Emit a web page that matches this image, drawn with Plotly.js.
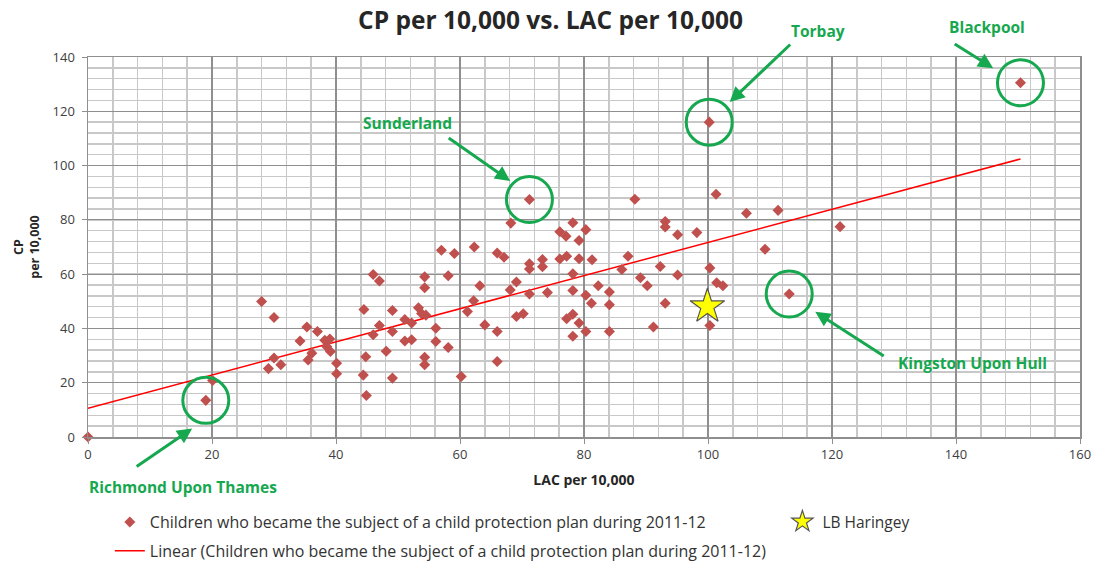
<!DOCTYPE html>
<html><head><meta charset="utf-8">
<script src="https://cdn.plot.ly/plotly-3.0.1.min.js"></script>
<style>html,body{margin:0;padding:0;background:#fff;} #chart{width:1101px;height:565px;}</style>
</head><body><div id="chart"></div>
<script>
// ---- data ----
const lacValues = [0, 19.0, 20.1, 28.0, 30.0, 29.1, 30.0, 31.1, 34.2, 35.3, 37.0, 38.2, 39.0, 38.5, 39.1, 36.1, 35.5, 40.1, 40.1,
  44.5, 44.8, 44.4, 44.9, 46.0, 47.0, 47.0, 46.0, 48.1, 49.1, 49.1, 49.1, 51.1, 52.2, 51.1, 52.2, 53.3, 53.8, 54.5, 54.3, 54.3,
  56.1, 56.1, 54.3, 54.3, 58.1, 57.0, 59.1, 58.1, 60.2, 62.3, 63.2, 62.2, 61.2, 64.0, 66.0, 66.0, 66.0, 67.1, 68.2, 71.2,
  69.1, 68.1, 69.1, 70.2, 71.2, 71.2, 73.3, 73.3, 71.2, 74.1, 76.1, 77.1, 78.2, 79.2, 80.3, 76.1, 77.2, 79.2, 81.3, 78.2,
  78.2, 80.3, 82.3, 84.1, 81.2, 84.1, 77.2, 78.2, 79.2, 80.3, 78.2, 84.1, 88.2, 87.1, 86.1, 89.1, 90.2, 91.2, 92.3, 93.1,
  93.1, 93.1, 95.1, 95.1, 98.2, 100.2, 100.3, 100.3, 101.3, 101.4, 102.4, 106.2, 109.2, 111.3, 113.1, 121.3, 150.4];
const cpValues = [0, 13.5, 20.8, 49.9, 44.0, 25.2, 29.1, 26.6, 35.4, 40.5, 38.9, 35.6, 36.1, 33.3, 31.5, 30.9, 28.4, 27.2, 23.3,
  47.0, 29.6, 22.8, 15.3, 59.9, 57.5, 41.1, 37.7, 31.6, 46.6, 38.9, 21.7, 43.3, 42.0, 35.4, 35.8, 47.6, 45.5, 44.9, 59.0, 55.0,
  40.1, 35.2, 29.4, 26.6, 33.0, 68.8, 67.6, 59.4, 22.3, 70.0, 55.7, 50.2, 46.2, 41.3, 38.9, 27.8, 67.8, 66.2, 78.8, 87.5,
  57.1, 54.2, 44.4, 45.4, 63.8, 61.9, 65.4, 62.7, 52.7, 53.2, 75.6, 74.0, 78.9, 72.4, 76.4, 65.6, 66.6, 65.7, 65.3, 60.1,
  54.0, 52.2, 55.7, 53.4, 49.3, 48.7, 43.6, 45.2, 42.0, 38.9, 37.1, 38.9, 87.6, 66.6, 61.7, 58.7, 55.7, 40.5, 62.8, 79.4,
  77.4, 49.3, 74.5, 59.7, 75.3, 116.0, 62.3, 41.1, 89.4, 56.8, 55.7, 82.4, 69.2, 83.5, 52.7, 77.5, 130.5];
const haringeyLac = [99.9];
const haringeyCp = [48.1];
const seriesName = 'Children who became the subject of a child protection plan during 2011-12';
const trendName = 'Linear (' + seriesName + ')';
const haringeyName = 'LB Haringey';
const xTickValues = [0, 20, 40, 60, 80, 100, 120, 140, 160];
const yTickValues = [0, 20, 40, 60, 80, 100, 120, 140];
const calloutNames = ['Richmond Upon Thames', 'Sunderland', 'Torbay', 'Blackpool', 'Kingston Upon Hull'];
const calloutLac = [19.0, 71.2, 100.2, 150.4, 113.1];
const calloutCp = [13.5, 87.5, 116.0, 130.5, 52.7];

// ---- least-squares linear trend (as Excel does) ----
let n = lacValues.length, sx = 0, sy = 0, sxx = 0, sxy = 0;
for (let i = 0; i < n; i++) { sx += lacValues[i]; sy += cpValues[i]; sxx += lacValues[i]*lacValues[i]; sxy += lacValues[i]*cpValues[i]; }
const slope = (n*sxy - sx*sy) / (n*sxx - sx*sx);
const intercept = (sy - slope*sx) / n;
const xMin = Math.min(...lacValues), xMax = Math.max(...lacValues);
const trendX = [xMin, xMax];
const trendY = trendX.map(v => intercept + slope*v);

// ---- styles / layout positions ----
const FONT = 'Open Sans, Liberation Sans, sans-serif';
const GREEN = '#16a84f';
const RED = '#c0504d';
// label positions in paper units, arrow tips in data units, arrow tails as pixel offsets
const calloutStyle = [
  {labelX: 0.0958, labelY: -0.131, tipX: 16.8, tipY: 3.1, ax: -57, ay: 39},
  {labelX: 0.3216, labelY: 0.826, tipX: 68.1, tipY: 94.3, ax: -63, ay: -44},
  {labelX: 0.7359, labelY: 1.068, tipX: 103.5, tipY: 123.4, ax: 62, ay: -59},
  {labelX: 0.9063, labelY: 1.079, tipX: 146.0, tipY: 135.9, ax: -40, ay: -25},
  {labelX: 0.8921, labelY: 0.195, tipX: 117.3, tipY: 46.1, ax: 70, ay: 45}
];

const traces = [
  {x: trendX, y: trendY, mode: 'lines', name: trendName, line: {color: '#ff0000', width: 1.5},
   legendgroup: 'b', legendrank: 2, hoverinfo: 'skip'},
  {x: lacValues, y: cpValues, mode: 'markers', name: seriesName, cliponaxis: false,
   marker: {symbol: 'diamond', size: 8.5, color: RED}, legendgroup: 'a', legendrank: 1},
  {x: haringeyLac, y: haringeyCp, mode: 'markers', name: haringeyName, legend: 'legend2', cliponaxis: false,
   marker: {symbol: 'star', size: 26, color: '#ffff00', line: {color: '#555', width: 1.2}}}
];

const annotations = [];
const shapes = [];
calloutNames.forEach((name, i) => {
  const s = calloutStyle[i];
  annotations.push({x: s.labelX, y: s.labelY, xref: 'paper', yref: 'paper', xanchor: 'center', yanchor: 'middle',
    text: '<b>' + name + '</b>', showarrow: false, font: {family: FONT, size: 15.5, color: GREEN}});
  annotations.push({x: s.tipX, y: s.tipY, xref: 'x', yref: 'y', text: '', showarrow: true, ax: s.ax, ay: s.ay,
    arrowhead: 2, arrowsize: 1, arrowwidth: 3, arrowcolor: GREEN});
  shapes.push({type: 'circle', xref: 'x', yref: 'y', xsizemode: 'pixel', ysizemode: 'pixel',
    xanchor: calloutLac[i], yanchor: calloutCp[i], x0: -23, x1: 23, y0: -23, y1: 23,
    line: {color: GREEN, width: 3}});
});

const layout = {
  width: 1101, height: 565,
  margin: {l: 88, r: 21, t: 57, b: 128, autoexpand: false},
  paper_bgcolor: '#ffffff', plot_bgcolor: '#ffffff',
  font: {family: FONT, color: '#333'},
  title: {text: '<b>CP per 10,000 vs. LAC per 10,000</b>', x: 0.5, xref: 'container', y: 0.963, yanchor: 'middle',
    font: {family: FONT, size: 24.5, color: '#262626'}},
  xaxis: {range: [0, 160], tickvals: xTickValues, showgrid: true, gridcolor: '#8f8f8f', gridwidth: 1.2,
    minor: {dtick: 4, tick0: 0, showgrid: true, gridcolor: '#c8c8c8', gridwidth: 1.5},
    showline: true, linecolor: '#8f8f8f', linewidth: 1.5, mirror: true, zeroline: false, automargin: false,
    ticks: 'outside', ticklen: 5, tickcolor: '#8f8f8f', ticklabelstandoff: 0,
    tickfont: {family: FONT, size: 13, color: '#404040'},
    title: {text: '<b>LAC per 10,000</b>', standoff: 13, font: {family: FONT, size: 14, color: '#262626'}}},
  yaxis: {range: [0, 140], tickvals: yTickValues, showgrid: true, gridcolor: '#8f8f8f', gridwidth: 1.2,
    minor: {dtick: 4, tick0: 0, showgrid: true, gridcolor: '#c8c8c8', gridwidth: 1.5},
    showline: true, linecolor: '#8f8f8f', linewidth: 1.5, mirror: true, zeroline: false, automargin: false,
    ticks: 'outside', ticklen: 5, tickcolor: '#8f8f8f', ticklabelstandoff: 4,
    tickfont: {family: FONT, size: 13, color: '#404040'},
    title: {text: '<b>CP<br>per 10,000</b>', standoff: 10, font: {family: FONT, size: 12.5, color: '#262626'}}},
  showlegend: true,
  legend: {x: 0.022, xanchor: 'left', y: -0.179, yanchor: 'top', traceorder: 'grouped', tracegroupgap: 5,
    bgcolor: 'rgba(0,0,0,0)', font: {family: FONT, size: 16, color: '#333'}},
  legend2: {x: 0.70, xanchor: 'left', y: -0.179, yanchor: 'top', bgcolor: 'rgba(0,0,0,0)',
    font: {family: FONT, size: 15.5, color: '#333'}},
  annotations: annotations,
  shapes: shapes
};

Plotly.newPlot('chart', traces, layout, {displayModeBar: false, staticPlot: true});
</script>
</body></html>
